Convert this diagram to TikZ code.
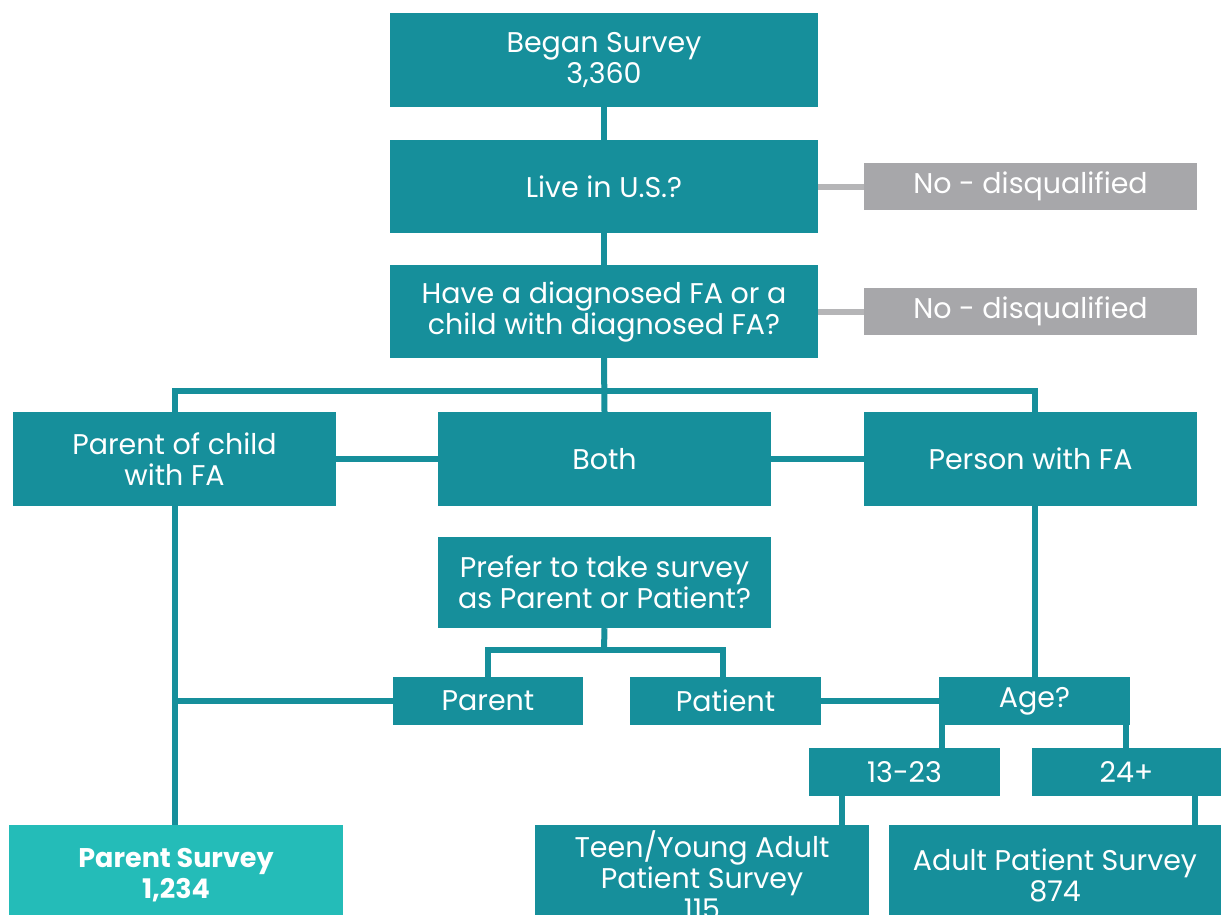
\documentclass[tikz,border=0pt]{standalone}
\usepackage{fontspec}
\setmainfont{Poppins}
\usetikzlibrary{backgrounds}
\definecolor{faTeal}{HTML}{168F9B}
\definecolor{faLight}{HTML}{24BCB8}
\definecolor{faGray}{HTML}{A7A7AA}
\definecolor{faGrayLine}{HTML}{B5B5B7}
\tikzset{
  tealbox/.style={fill=faTeal,text=white,inner sep=0pt,align=center,
    font=\fontsize{28.5}{31}\selectfont},
  graybox/.style={tealbox,fill=faGray},
  lightbox/.style={tealbox,fill=faLight,font=\fontsize{27}{31}\selectfont\bfseries},
  link/.style={draw=faTeal,line width=6pt},
  graylink/.style={draw=faGrayLine,line width=6pt}
}
\begin{document}
\begin{tikzpicture}[x=1pt,y=-1pt]
\clip (0,0) rectangle (1221,914);
% top chain
\node[tealbox,minimum width=428pt,minimum height=94pt] (began) at (604,60) {Began Survey\\3,360};
\node[tealbox,minimum width=428pt,minimum height=93pt] (live) at (604,186.5) {Live in U.S.?};
\node[graybox,minimum width=333pt,minimum height=47pt] (no1) at (1030.5,186.5) {No - disqualified};
\node[tealbox,minimum width=428pt,minimum height=93pt] (diag) at (604,311.5) {Have a diagnosed FA or a\\child with diagnosed FA?};
\node[graybox,minimum width=333pt,minimum height=47pt] (no2) at (1030.5,311.5) {No - disqualified};
% who takes it
\node[tealbox,minimum width=323pt,minimum height=94pt] (parent) at (174.5,459) {Parent of child\\with FA};
\node[tealbox,minimum width=333pt,minimum height=94pt] (both) at (604.5,459) {Both};
\node[tealbox,minimum width=333pt,minimum height=94pt] (person) at (1030.5,459) {Person with FA};
\node[tealbox,minimum width=333pt,minimum height=91pt] (prefer) at (604.5,582.5) {Prefer to take survey\\as Parent or Patient?};
\node[tealbox,minimum width=190pt,minimum height=48pt] (par) at (488,701) {Parent};
\node[tealbox,minimum width=191pt,minimum height=48pt] (pat) at (725.5,701) {Patient};
\node[tealbox,minimum width=191pt,minimum height=48pt] (age) at (1034.5,701) {Age?};
\node[tealbox,minimum width=191pt,minimum height=48pt] (young) at (904.5,772) {13-23};
\node[tealbox,minimum width=189pt,minimum height=48pt] (old) at (1126.5,772) {24+};
% surveys
\node[lightbox,minimum width=334pt,minimum height=100pt] (psurvey) at (176,875) {Parent Survey\\1,234};
\node[tealbox,minimum width=334pt,minimum height=100pt] (teen) at (702,875) {Teen/Young Adult\\Patient Survey\\115};
\node[tealbox,minimum width=332pt,minimum height=100pt] (adult) at (1055,875) {Adult Patient Survey\\874};
\coordinate (bar) at (604,391);
\coordinate (split) at (604,650);
\begin{scope}[on background layer]
\draw[link] (began.south) -- (live.north);
\draw[link] (live.south) -- (diag.north);
\draw[graylink] (live.east) -- (no1.west);
\draw[graylink] (diag.east) -- (no2.west);
\draw[link] (diag.south) -- (both.north);
\draw[link] (parent.north) |- (bar) -| (age.north |- person.north);
\draw[link] (parent.east) -- (both.west);
\draw[link] (both.east) -- (person.west);
\draw[link] (prefer.south) -- (split);
\draw[link] (par.north) |- (split) -| ([xshift=-3pt]pat.north);
\draw[link] (parent.south) -- (parent.south |- psurvey.north);
\draw[link] (parent.south |- par.west) -- (par.west);
\draw[link] (pat.east) -- (age.west);
\draw[link] (age.north |- person.south) -- (age.north);
\draw[link] ([xshift=3pt]age.south west) -- ([xshift=3pt]age.south west |- young.north);
\draw[link] ([xshift=-4pt]age.south east) -- ([xshift=-4pt]age.south east |- old.north);
\draw[link] ([xshift=33pt]young.south west) -- ([xshift=33pt]young.south west |- teen.north);
\draw[link] ([xshift=-26pt]old.south east) -- ([xshift=-26pt]old.south east |- adult.north);
\end{scope}
\end{tikzpicture}
\end{document}
